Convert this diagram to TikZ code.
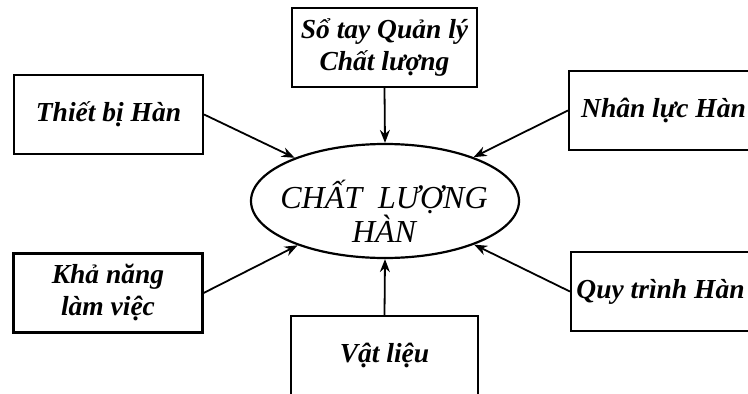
\documentclass[tikz,border=0pt]{standalone}
\usepackage{fontspec}
\setmainfont{Liberation Serif}
\usetikzlibrary{arrows.meta,shapes.geometric}
\tikzset{
  box/.style={draw=black, line width=2.2pt, minimum width=189pt, minimum height=79pt, align=center, inner sep=0pt,
    font=\fontsize{27.5}{32}\selectfont\bfseries\itshape},
  core/.style={draw=black, line width=2.2pt, ellipse, minimum width=268pt, minimum height=114pt, inner sep=0pt},
  coretext/.style={align=center, inner sep=0pt, font=\fontsize{32}{34}\selectfont\itshape},
  link/.style={draw=black, line width=1.8pt, -{Stealth[length=13pt,width=10pt]}},
}
\begin{document}
\begin{tikzpicture}[x=1pt,y=-1pt]
\useasboundingbox (0,0) rectangle (748,394);
\clip (0,0) rectangle (748,394);
\fill[white] (0,0) rectangle (748,394);
\node[core] (ell) at (385,201) {};
\node[coretext] (elltext) at (384,211) {CHẤT~ LƯỢNG\\HÀN};
\node[box, minimum width=185pt] (top) at (384.5,47.5) {Sổ tay Quản lý\\Chất lượng};
\node[box] (tl) at (108.5,114.5) {Thiết bị Hàn};
\node[box] (tr) at (663.5,110.5) {Nhân lực Hàn};
\node[box] (bl) at (108,293) {Khả năng\\làm việc};
\node[box] (br) at (665.5,291.5) {\hspace*{-10pt}Quy trình Hàn};
\node[box, minimum width=187pt] (bot) at (384.5,355.5) {Vật liệu};
\draw[link] (top.south) -- (ell.north);
\draw[link] (bot.north) -- (ell.south);
\draw[link] (tl.east) -- (ell);
\draw[link] (tr.west) -- (ell);
\draw[link] (bl.east) -- (ell);
\draw[link] (br.west) -- (ell);
\end{tikzpicture}
\end{document}
